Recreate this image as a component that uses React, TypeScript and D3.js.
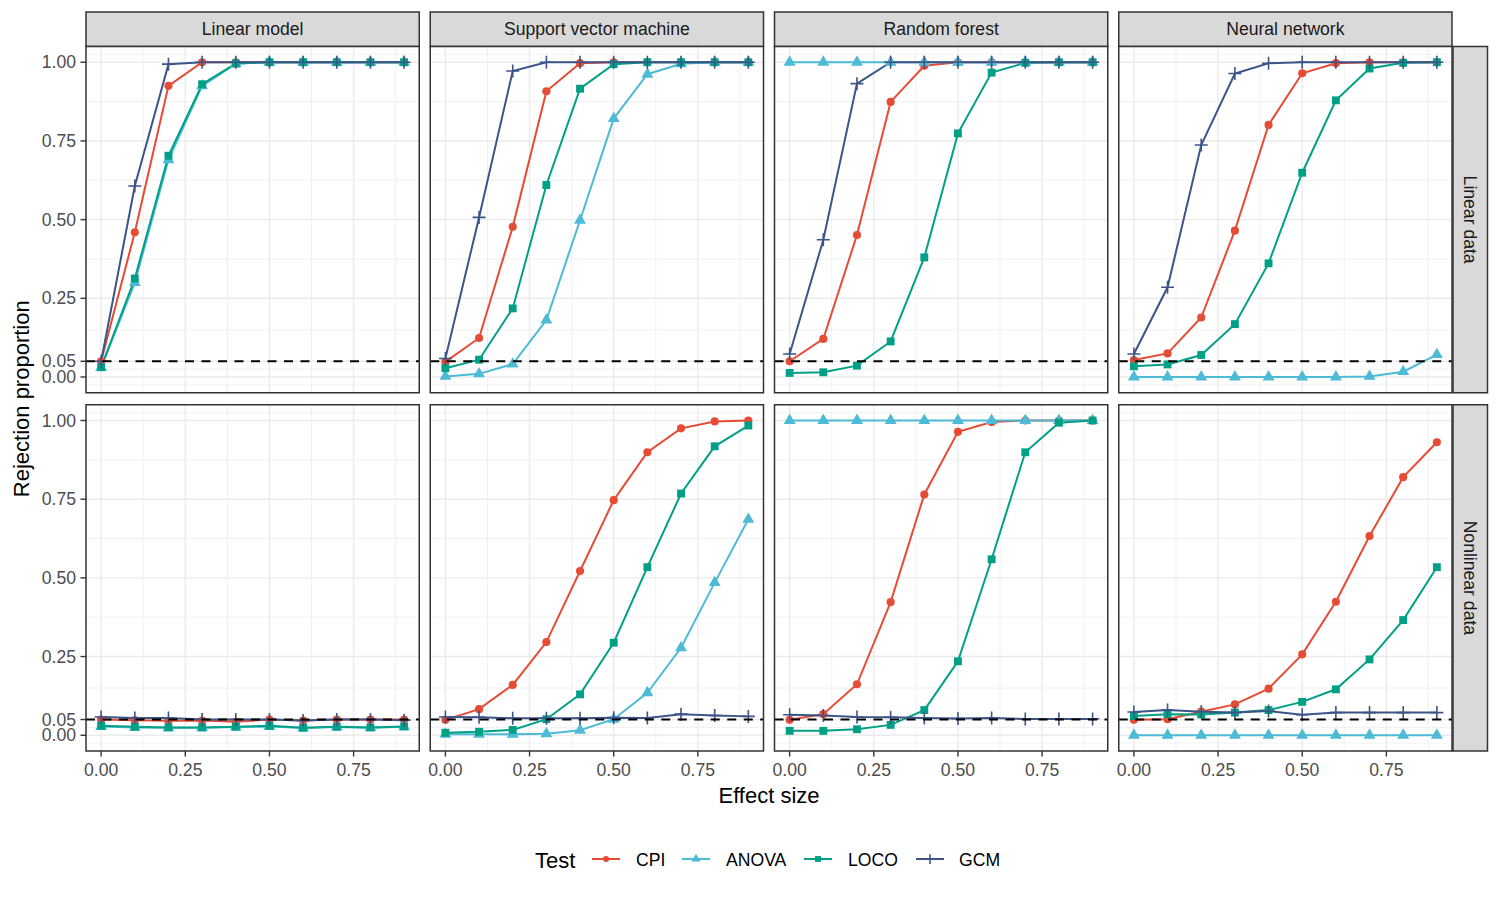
import React from 'react';
import * as d3 from 'd3';

// effect sizes on the x axis
const effectSizes = [0, 0.1, 0.2, 0.3, 0.4, 0.5, 0.6, 0.7, 0.8, 0.9];

const models = ['Linear model', 'Support vector machine', 'Random forest', 'Neural network'];
const dataSettings = ['Linear data', 'Nonlinear data'];
const tests = ['CPI', 'ANOVA', 'LOCO', 'GCM'];
const testColors = ['#E64B35', '#4DBBD5', '#00A087', '#3C5488'];

const yTicks = [0, 0.05, 0.25, 0.5, 0.75, 1];
const yTickLabels = ['0.00', '0.05', '0.25', '0.50', '0.75', '1.00'];
const yMinor = [-0.025, 0.025, 0.15, 0.375, 0.625, 0.875, 1.025];
const xTicks = [0, 0.25, 0.5, 0.75];
const xTickLabels = ['0.00', '0.25', '0.50', '0.75'];
const xMinor = [0.125, 0.375, 0.625, 0.875];
const alpha = 0.05;

// rejection proportions, one row per model (LM, SVM, RF, NN)
const cpiLinear = [
  [0.05, 0.46, 0.925, 1, 1, 1, 1, 1, 1, 1],
  [0.048, 0.124, 0.477, 0.908, 0.997, 1, 1, 1, 1, 1],
  [0.05, 0.121, 0.451, 0.874, 0.989, 1, 1, 1, 1, 1],
  [0.054, 0.075, 0.189, 0.465, 0.801, 0.965, 0.997, 1, 1, 1],
];
const anovaLinear = [
  [0.03, 0.3, 0.69, 0.925, 0.995, 1, 1, 1, 1, 1],
  [0.002, 0.01, 0.041, 0.181, 0.498, 0.821, 0.962, 0.995, 1, 1],
  [1, 1, 1, 1, 1, 1, 1, 1, 1, 1],
  [0, 0, 0, 0, 0, 0, 0, 0.002, 0.017, 0.071],
];
const locoLinear = [
  [0.031, 0.313, 0.703, 0.93, 0.996, 1, 1, 1, 1, 1],
  [0.028, 0.055, 0.218, 0.61, 0.916, 0.994, 1, 1, 1, 1],
  [0.013, 0.015, 0.036, 0.113, 0.38, 0.774, 0.967, 0.998, 1, 1],
  [0.034, 0.04, 0.07, 0.168, 0.361, 0.649, 0.879, 0.98, 0.998, 1],
];
const gcmLinear = [
  [0.05, 0.607, 0.994, 1, 1, 1, 1, 1, 1, 1],
  [0.059, 0.507, 0.972, 1, 1, 1, 1, 1, 1, 1],
  [0.073, 0.436, 0.932, 1, 1, 1, 1, 1, 1, 1],
  [0.073, 0.285, 0.737, 0.964, 0.997, 1, 1, 1, 1, 1],
];

const cpiNonlinear = [
  [0.05, 0.048, 0.046, 0.047, 0.043, 0.05, 0.047, 0.05, 0.05, 0.05],
  [0.049, 0.083, 0.16, 0.296, 0.522, 0.747, 0.899, 0.975, 0.997, 1],
  [0.049, 0.067, 0.162, 0.423, 0.765, 0.964, 0.995, 1, 1, 1],
  [0.049, 0.051, 0.075, 0.098, 0.148, 0.257, 0.424, 0.633, 0.82, 0.931],
];
const anovaNonlinear = [
  [0.028, 0.025, 0.024, 0.024, 0.026, 0.028, 0.023, 0.026, 0.024, 0.027],
  [0.003, 0.003, 0.003, 0.005, 0.016, 0.051, 0.135, 0.278, 0.485, 0.686],
  [1, 1, 1, 1, 1, 1, 1, 1, 1, 1],
  [0, 0, 0, 0, 0, 0, 0, 0, 0, 0],
];
const locoNonlinear = [
  [0.03, 0.027, 0.025, 0.025, 0.027, 0.03, 0.024, 0.027, 0.025, 0.028],
  [0.008, 0.011, 0.017, 0.051, 0.13, 0.294, 0.534, 0.768, 0.918, 0.984],
  [0.014, 0.014, 0.019, 0.033, 0.08, 0.235, 0.559, 0.899, 0.993, 1],
  [0.061, 0.067, 0.066, 0.072, 0.08, 0.106, 0.146, 0.241, 0.366, 0.534],
];
const gcmNonlinear = [
  [0.058, 0.055, 0.055, 0.05, 0.05, 0.05, 0.047, 0.05, 0.05, 0.048],
  [0.058, 0.057, 0.054, 0.054, 0.054, 0.056, 0.055, 0.067, 0.063, 0.06],
  [0.065, 0.063, 0.058, 0.057, 0.055, 0.053, 0.055, 0.052, 0.052, 0.052],
  [0.074, 0.08, 0.075, 0.072, 0.077, 0.065, 0.072, 0.072, 0.072, 0.072],
];

const seriesByRow = [
  [cpiLinear, anovaLinear, locoLinear, gcmLinear],
  [cpiNonlinear, anovaNonlinear, locoNonlinear, gcmNonlinear],
];

// layout
const W = 1500, H = 900;
const left = 86, right = 1452, gap = 11;
const top = 46.5, bottom = 751, rowGap = 12;
const stripH = 34.5;
const panelW = (right - left - gap * 3) / 4;
const panelH = (bottom - top - rowGap) / 2;
const font = 'Liberation Sans, Arial, Helvetica, sans-serif';
const border = '#333333';
const grid = '#EBEBEB';

const x = d3.scaleLinear().domain([-0.045, 0.945]).range([0, panelW]);
const y = d3.scaleLinear().domain([-0.05, 1.05]).range([panelH, 0]);
const line = d3.line<number>().x((_, i) => x(effectSizes[i])).y(d => y(d));

const circle = d3.symbol(d3.symbolCircle, 52)();
const triangle = d3.symbol(d3.symbolTriangle, 62)();
const square = d3.symbol(d3.symbolSquare, 62)();
const plus = 'M-6.5,0H6.5M0,-6.5V6.5';

function Marker({ t, cx, cy, scale = 1 }) {
  const color = testColors[t];
  const tr = `translate(${cx},${cy}) scale(${scale})`;
  if (t === 3) return <path d={plus} transform={tr} stroke={color} strokeWidth={1.6 / scale} fill="none" />;
  const d = t === 0 ? circle : t === 1 ? triangle : square;
  return <path d={d} transform={tr} fill={color} />;
}

function Panel({ row, col }) {
  const px = left + col * (panelW + gap);
  const py = top + row * (panelH + rowGap);
  const series = seriesByRow[row].map(s => s[col]);
  return (
    <g transform={`translate(${px},${py})`}>
      <rect width={panelW} height={panelH} fill="white" />
      {yMinor.map(v => <line key={'ym' + v} x1={0} x2={panelW} y1={y(v)} y2={y(v)} stroke={grid} strokeWidth={0.7} />)}
      {xMinor.map(v => <line key={'xm' + v} y1={0} y2={panelH} x1={x(v)} x2={x(v)} stroke={grid} strokeWidth={0.7} />)}
      {yTicks.map(v => <line key={'y' + v} x1={0} x2={panelW} y1={y(v)} y2={y(v)} stroke={grid} strokeWidth={1.4} />)}
      {xTicks.map(v => <line key={'x' + v} y1={0} y2={panelH} x1={x(v)} x2={x(v)} stroke={grid} strokeWidth={1.4} />)}
      {series.map((vals, t) => (
        <path key={'l' + t} d={line(vals)} fill="none" stroke={testColors[t]} strokeWidth={2} />
      ))}
      {series.map((vals, t) =>
        vals.map((v, i) => <Marker key={t + '-' + i} t={t} cx={x(effectSizes[i])} cy={y(v)} />)
      )}
      <line x1={0} x2={panelW} y1={y(alpha)} y2={y(alpha)} stroke="black" strokeWidth={2} strokeDasharray="9 7.5" />
      <rect width={panelW} height={panelH} fill="none" stroke={border} strokeWidth={1.5} />
    </g>
  );
}

export default function App() {
  const legendItems = [
    { key: 592, label: 636 },
    { key: 682, label: 726 },
    { key: 804, label: 848 },
    { key: 916, label: 959 },
  ];
  return (
    <svg width={W} height={H} style={{ position: 'absolute', left: 0, top: 0, background: 'white' }} fontFamily={font}>
      {/* column strips */}
      {models.map((m, c) => {
        const px = left + c * (panelW + gap);
        return (
          <g key={m}>
            <rect x={px} y={top - stripH} width={panelW} height={stripH} fill="#D9D9D9" stroke={border} strokeWidth={1.5} />
            <text x={px + panelW / 2} y={top - stripH / 2} dy="0.35em" textAnchor="middle" fontSize={17.6} fill="#1A1A1A">{m}</text>
          </g>
        );
      })}
      {/* row strips */}
      {dataSettings.map((d, r) => {
        const py = top + r * (panelH + rowGap);
        return (
          <g key={d}>
            <rect x={right + 1} y={py} width={stripH} height={panelH} fill="#D9D9D9" stroke={border} strokeWidth={1.5} />
            <text transform={`translate(${right + 1 + stripH / 2},${py + panelH / 2}) rotate(90)`} dy="0.35em" textAnchor="middle" fontSize={17.6} fill="#1A1A1A">{d}</text>
          </g>
        );
      })}
      {dataSettings.map((_, r) => models.map((__, c) => <Panel key={r + '-' + c} row={r} col={c} />))}
      {/* y axes */}
      {dataSettings.map((_, r) => {
        const py = top + r * (panelH + rowGap);
        return (
          <g key={'ya' + r} transform={`translate(${left},${py})`}>
            {yTicks.map((v, i) => (
              <g key={v}>
                <line x1={-5.5} x2={0} y1={y(v)} y2={y(v)} stroke={border} strokeWidth={1.4} />
                <text x={-10} y={y(v)} dy="0.35em" textAnchor="end" fontSize={17.6} fill="#4D4D4D">{yTickLabels[i]}</text>
              </g>
            ))}
          </g>
        );
      })}
      {/* x axes */}
      {models.map((_, c) => {
        const px = left + c * (panelW + gap);
        return (
          <g key={'xa' + c} transform={`translate(${px},${bottom})`}>
            {xTicks.map((v, i) => (
              <g key={v}>
                <line x1={x(v)} x2={x(v)} y1={0} y2={5.5} stroke={border} strokeWidth={1.4} />
                <text x={x(v)} y={19} dy="0.35em" textAnchor="middle" fontSize={17.6} fill="#4D4D4D">{xTickLabels[i]}</text>
              </g>
            ))}
          </g>
        );
      })}
      <text x={(left + right) / 2} y={795} dy="0.35em" textAnchor="middle" fontSize={22} fill="black">Effect size</text>
      <text transform={`translate(21,${(top + bottom) / 2}) rotate(-90)`} dy="0.35em" textAnchor="middle" fontSize={22} fill="black">Rejection proportion</text>
      {/* legend */}
      <text x={535} y={860} dy="0.35em" fontSize={22} fill="black">Test</text>
      {tests.map((t, i) => (
        <g key={t}>
          <line x1={legendItems[i].key} x2={legendItems[i].key + 28} y1={859} y2={859} stroke={testColors[i]} strokeWidth={2} />
          <Marker t={i} cx={legendItems[i].key + 14} cy={859} scale={0.75} />
          <text x={legendItems[i].label} y={860} dy="0.35em" fontSize={17.6} fill="black">{t}</text>
        </g>
      ))}
    </svg>
  );
}
